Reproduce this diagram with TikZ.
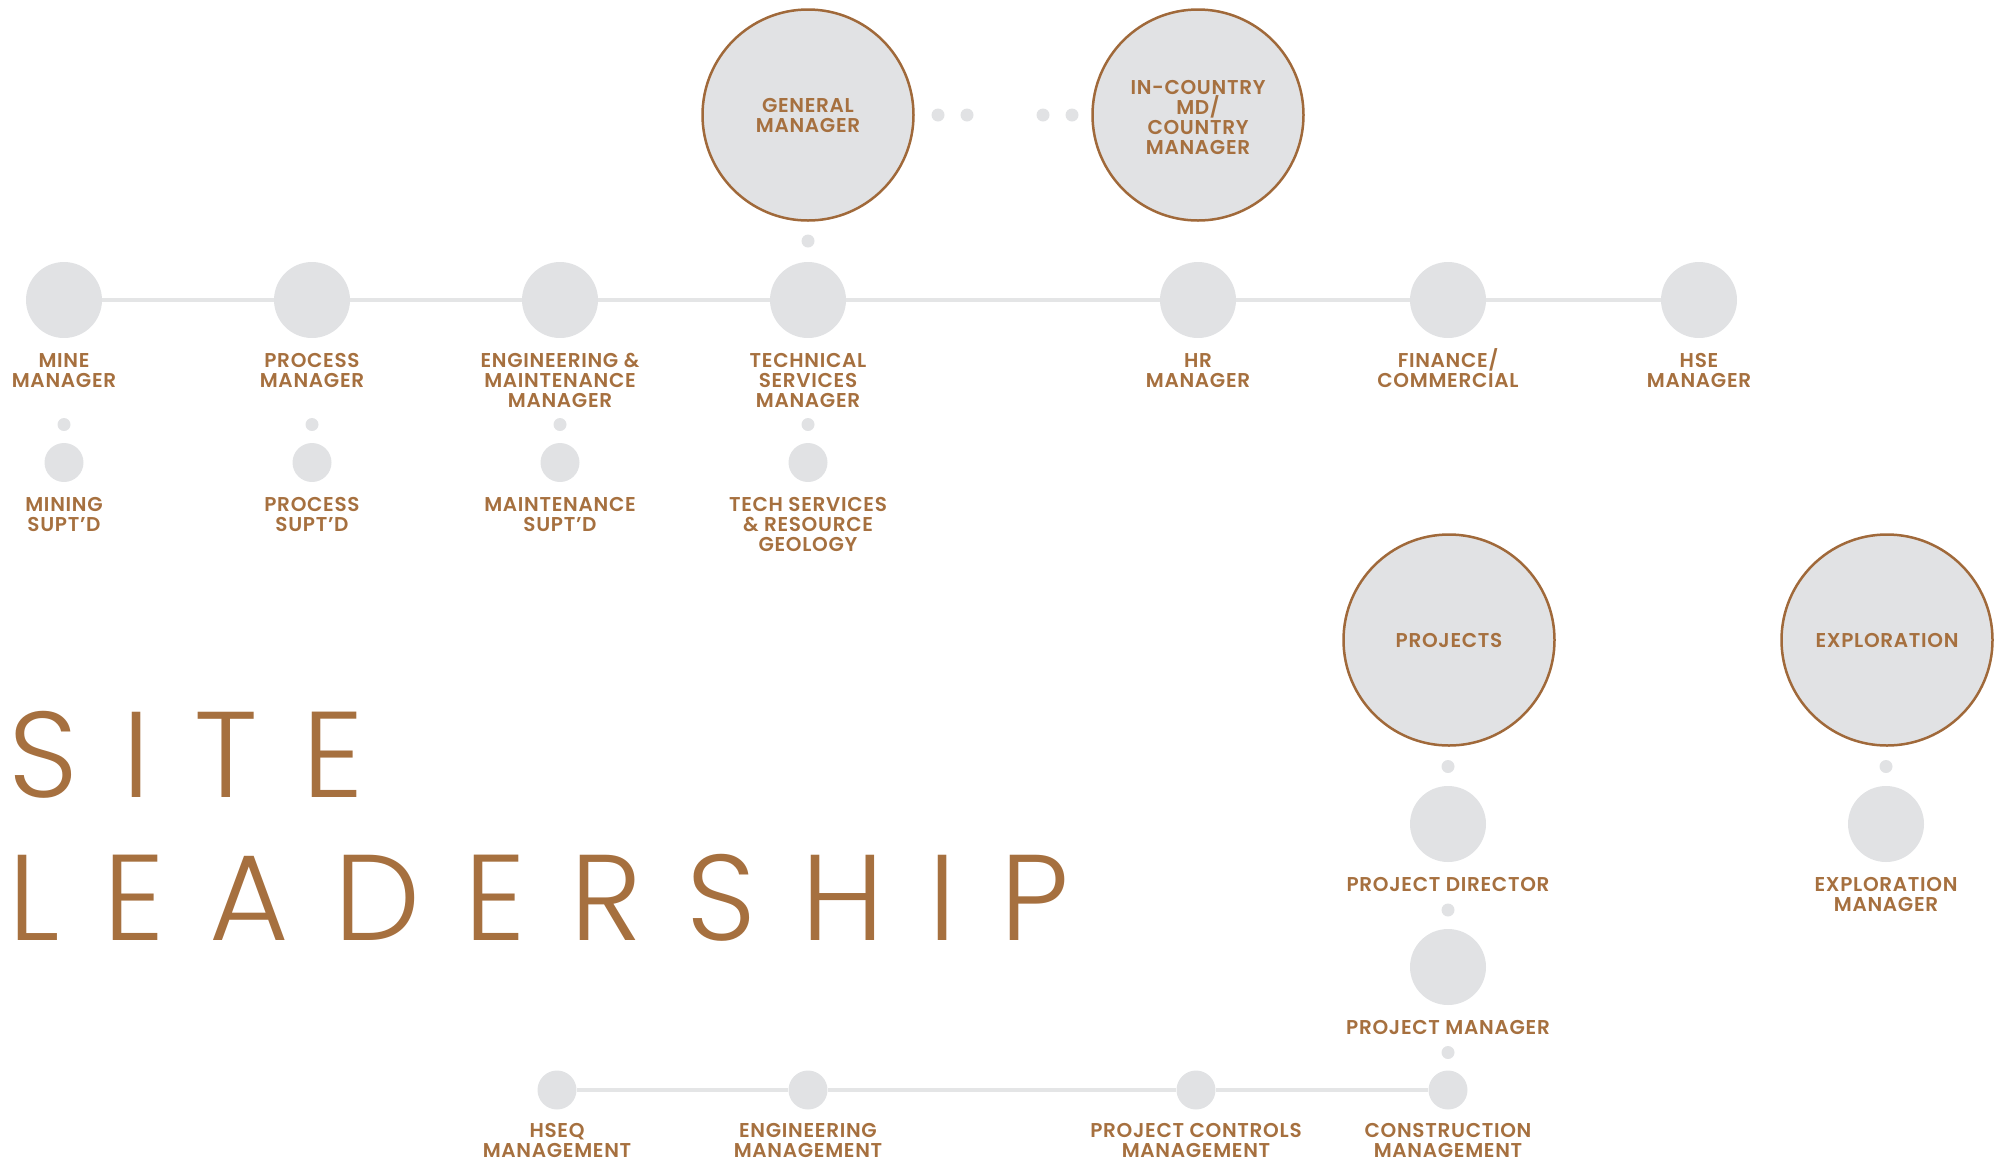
\documentclass[tikz,border=0pt]{standalone}
\usepackage{fontspec}
\setmainfont{Poppins}[BoldFont=* SemiBold]
\newfontfamily\thinfont{Poppins}[UprightFont=* Light]
\definecolor{brn}{HTML}{A6703F}
\definecolor{brnline}{HTML}{A0693A}
\definecolor{gfill}{HTML}{E1E2E4}
\definecolor{gline}{HTML}{E4E5E6}
\newcommand{\ls}{\rule{0pt}{19pt}}
\begin{document}
\begin{tikzpicture}[x=1pt,y=-1pt,
  lblfont/.style={font=\bfseries\fontsize{20}{20}\selectfont\addfontfeature{LetterSpace=3.5}},
  big/.style={circle,fill=gfill,draw=brnline,line width=2.5pt,minimum size=211pt,inner sep=0pt,
     text=brn,lblfont,align=center},
  mid/.style={circle,fill=gfill,minimum size=76pt,inner sep=0pt},
  sml/.style={circle,fill=gfill,minimum size=39pt,inner sep=0pt},
  dot/.style={circle,fill=gfill,minimum size=13pt,inner sep=0pt},
  lbl/.style={anchor=north,inner sep=0pt,text=brn,lblfont,align=center},
  title/.style={anchor=base west,inner sep=0pt,text=brn,font=\thinfont\fontsize{122}{122}\selectfont\addfontfeature{LetterSpace=36.5}},
  conn/.style={draw=gline,line width=4pt}]
\useasboundingbox (0,0) rectangle (2002,1163);
% top
\node[big] (gm) at (808,115) {GENERAL\\MANAGER};
\node[big] (icm) at (1198,115) {\rule{0pt}{20pt}IN-COUNTRY\\MD/\\COUNTRY\\MANAGER};
\node[dot] (d1) at (938,115) {};
\node[dot] (d2) at (967,115) {};
\node[dot] (d3) at (1043,115) {};
\node[dot] (d4) at (1072,115) {};
\node[dot] (dgm) at (808,241) {};
% row
\node[mid] (mine) at (64,300) {};
\node[mid] (proc) at (312,300) {};
\node[mid] (eng) at (560,300) {};
\node[mid] (tech) at (808,300) {};
\node[mid] (hr) at (1198,300) {};
\node[mid] (fin) at (1448,300) {};
\node[mid] (hse) at (1699,300) {};
\path[conn] (mine) -- (proc) (proc) -- (eng) (eng) -- (tech) (tech) -- (hr) (hr) -- (fin) (fin) -- (hse);
\node[lbl] (lmine) at (64,348) {\ls MINE\\MANAGER};
\node[lbl] (lproc) at (312,348) {\ls PROCESS\\MANAGER};
\node[lbl] (leng) at (560,348) {\ls ENGINEERING \&\\MAINTENANCE\\MANAGER};
\node[lbl] (ltech) at (808,348) {\ls TECHNICAL\\SERVICES\\MANAGER};
\node[lbl] (lhr) at (1198,348) {\ls HR\\MANAGER};
\node[lbl] (lfin) at (1448,348) {\ls FINANCE/\\COMMERCIAL};
\node[lbl] (lhse) at (1699,348) {\ls HSE\\MANAGER};
% second level
\foreach \n/\x in {a/64,b/312,c/560,d/808}{
  \node[dot] (dd\n) at (\x,424.5) {};
  \node[sml] (s\n) at (\x,462.5) {};
}
\node[lbl] (lsa) at (64,492) {\ls MINING\\SUPT'D};
\node[lbl] (lsb) at (312,492) {\ls PROCESS\\SUPT'D};
\node[lbl] (lsc) at (560,492) {\ls MAINTENANCE\\SUPT'D};
\node[lbl] (lsd) at (808,492) {\ls TECH SERVICES\\\& RESOURCE\\GEOLOGY};
% projects / exploration
\node[big] (proj) at (1449,640) {PROJECTS};
\node[big] (expl) at (1887,640) {EXPLORATION};
\node[dot] (dp) at (1448,766.5) {};
\node[dot] (de) at (1886,766.5) {};
\node[mid] (pd) at (1448,824) {};
\node[mid] (em) at (1886,824) {};
\node[lbl] (lpd) at (1448,872) {\ls PROJECT DIRECTOR};
\node[lbl] (lem) at (1886,872) {\ls EXPLORATION\\MANAGER};
\node[dot] (dpd) at (1448,910) {};
\node[mid] (pm) at (1448,967) {};
\node[lbl] (lpm) at (1448,1015) {\ls PROJECT MANAGER};
\node[dot] (dpm) at (1448,1052.5) {};
% bottom row
\node[sml] (hseq) at (557,1090) {};
\node[sml] (engm) at (808,1090) {};
\node[sml] (pcm) at (1196,1090) {};
\node[sml] (cm) at (1448,1090) {};
\path[conn] (hseq) -- (engm) (engm) -- (pcm) (pcm) -- (cm);
\node[lbl] (lhseq) at (557,1118) {\ls HSEQ\\MANAGEMENT};
\node[lbl] (lengm) at (808,1118) {\ls ENGINEERING\\MANAGEMENT};
\node[lbl] (lpcm) at (1196,1118) {\ls PROJECT CONTROLS\\MANAGEMENT};
\node[lbl] (lcm) at (1448,1118) {\ls CONSTRUCTION\\MANAGEMENT};
% title
\node[title] (site) at (8,797) {SITE};
\node[title] (lead) at (8,940) {LEADERSHIP};
\end{tikzpicture}
\end{document}
